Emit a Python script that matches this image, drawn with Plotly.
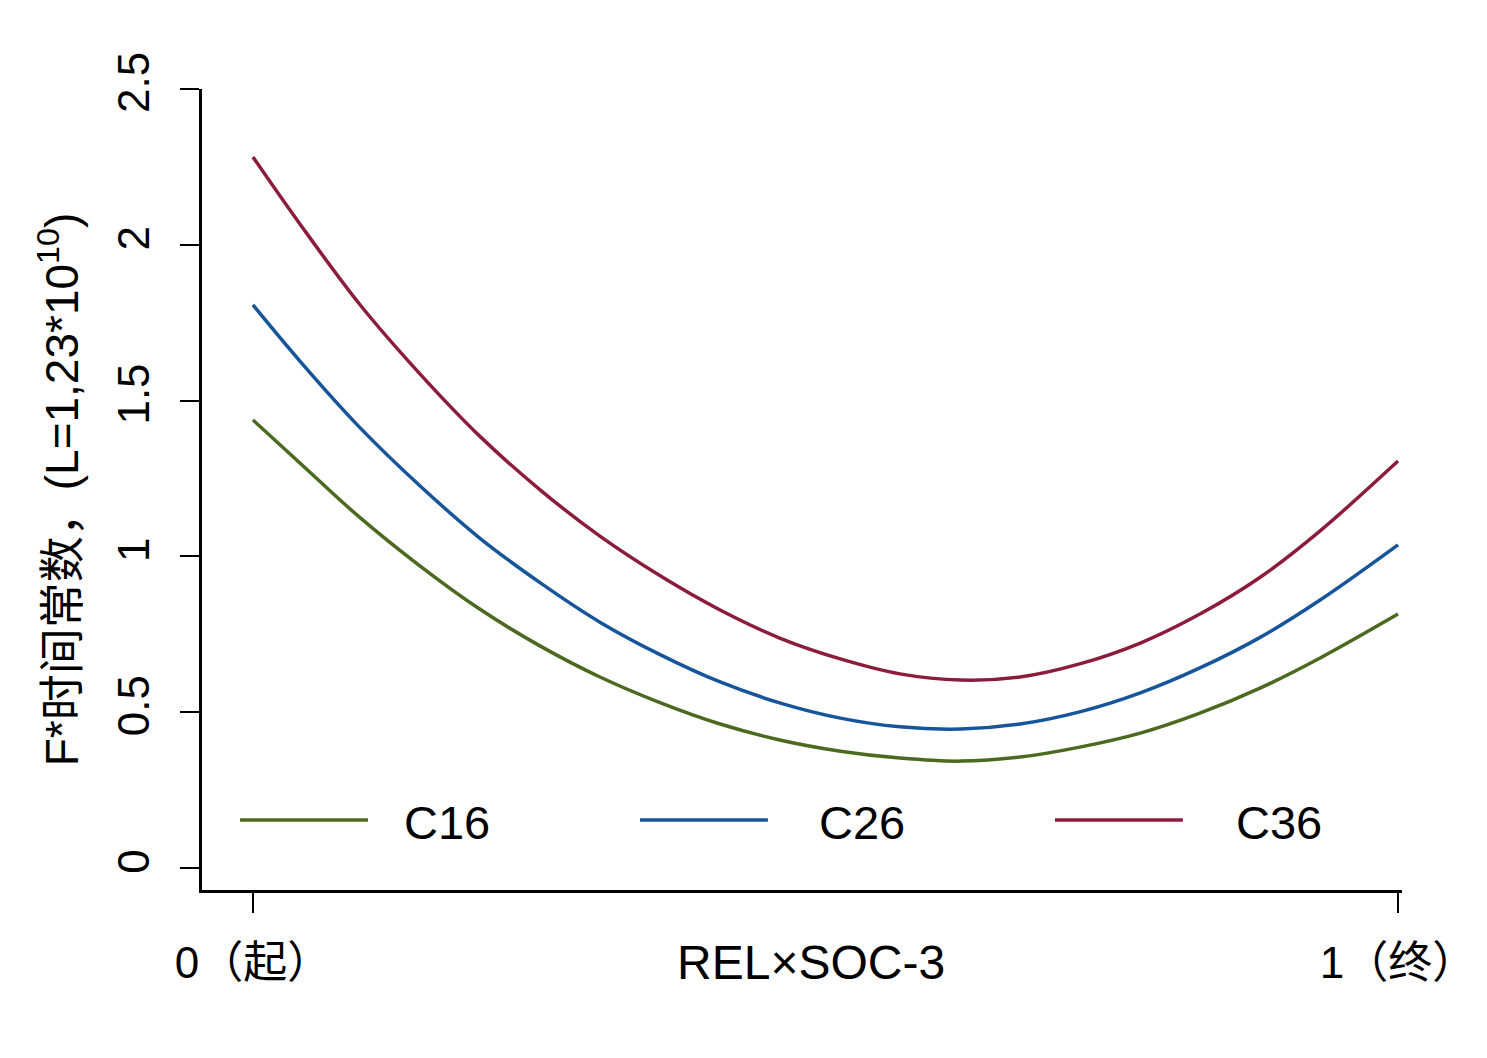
import plotly.graph_objects as go

# x positions (0 = start, 1 = end)
x_vals = [0.0, 0.041, 0.093, 0.146, 0.198, 0.251, 0.303, 0.356, 0.408, 0.460,
          0.513, 0.565, 0.618, 0.670, 0.722, 0.775, 0.827, 0.880, 0.932, 1.0]

c16 = [1.438, 1.300, 1.126, 0.969, 0.831, 0.712, 0.613, 0.530, 0.462, 0.411,
       0.375, 0.353, 0.343, 0.356, 0.388, 0.433, 0.497, 0.578, 0.674, 0.815]
c26 = [1.807, 1.627, 1.415, 1.226, 1.059, 0.915, 0.789, 0.684, 0.597, 0.530,
       0.481, 0.453, 0.446, 0.462, 0.501, 0.562, 0.642, 0.741, 0.860, 1.037]
c36 = [2.282, 2.067, 1.810, 1.585, 1.386, 1.213, 1.065, 0.937, 0.828, 0.738,
       0.671, 0.623, 0.603, 0.613, 0.655, 0.722, 0.815, 0.934, 1.082, 1.306]

series_names = ["C16", "C26", "C36"]
series_colors = ["#4b6a1f", "#17559b", "#8c1c3c"]

x_tickvals = [0, 1]
x_ticktext = ["0（起）", "1（终）"]
y_tickvals = [0, 0.5, 1, 1.5, 2, 2.5]
y_ticktext = ["0", "0.5", "1", "1.5", "2", "2.5"]

FONT = "Liberation Sans, Arial, Noto Sans CJK SC, sans-serif"

fig = go.Figure()
for name, ys, col in zip(series_names, [c16, c26, c36], series_colors):
    fig.add_trace(go.Scatter(
        x=x_vals, y=ys, mode="lines", name=name, showlegend=False,
        line=dict(color=col, width=3.5, shape="spline", smoothing=1.0),
    ))

# in-plot legend row (layout positions in paper coordinates)
legend_line_x0 = [0.0317, 0.365, 0.7108]
legend_text_x = [0.1667, 0.5125, 0.8600]
legend_line_len = 0.1066
legend_y = 0.0874
shapes = []
annotations = []
for name, col, x0, xt in zip(series_names, series_colors, legend_line_x0, legend_text_x):
    shapes.append(dict(type="line", xref="paper", yref="paper",
                       x0=x0, x1=x0 + legend_line_len, y0=legend_y, y1=legend_y,
                       line=dict(color=col, width=3.5)))
    annotations.append(dict(text=name, xref="paper", yref="paper",
                            x=xt, y=legend_y - 0.003,
                            xanchor="left", yanchor="middle", showarrow=False,
                            font=dict(size=47, color="black")))

annotations.append(dict(
    text="REL×SOC-3", xref="paper", yref="paper", x=0.5075, y=-0.0899,
    xanchor="center", yanchor="middle", showarrow=False,
    font=dict(size=48, color="black"),
))

fig.update_layout(
    width=1487, height=1058,
    margin=dict(l=202, r=85, t=89, b=168),
    paper_bgcolor="white", plot_bgcolor="white",
    font=dict(family=FONT, size=44, color="black"),
    showlegend=False,
    xaxis=dict(
        range=[-0.0445, 1.0035], showgrid=False, zeroline=False,
        showline=True, linecolor="black", linewidth=2.5,
        ticks="outside", ticklen=20, tickwidth=2, tickcolor="black",
        tickvals=x_tickvals, ticktext=x_ticktext,
        tickfont=dict(size=44), ticklabelstandoff=12,
    ),
    yaxis=dict(
        range=[-0.0706, 2.5], showgrid=False, zeroline=False,
        showline=True, linecolor="black", linewidth=2.5,
        ticks="outside", ticklen=19, tickwidth=2, tickcolor="black",
        tickvals=y_tickvals, ticktext=y_ticktext, tickangle=-90,
        tickfont=dict(size=44), ticklabelstandoff=14,
        title=dict(text="F*时间常数，(L=1,23*10<sup>10</sup>)",
                   font=dict(size=46), standoff=16),
    ),
    shapes=shapes,
    annotations=annotations,
)

fig.write_html("out.html")
